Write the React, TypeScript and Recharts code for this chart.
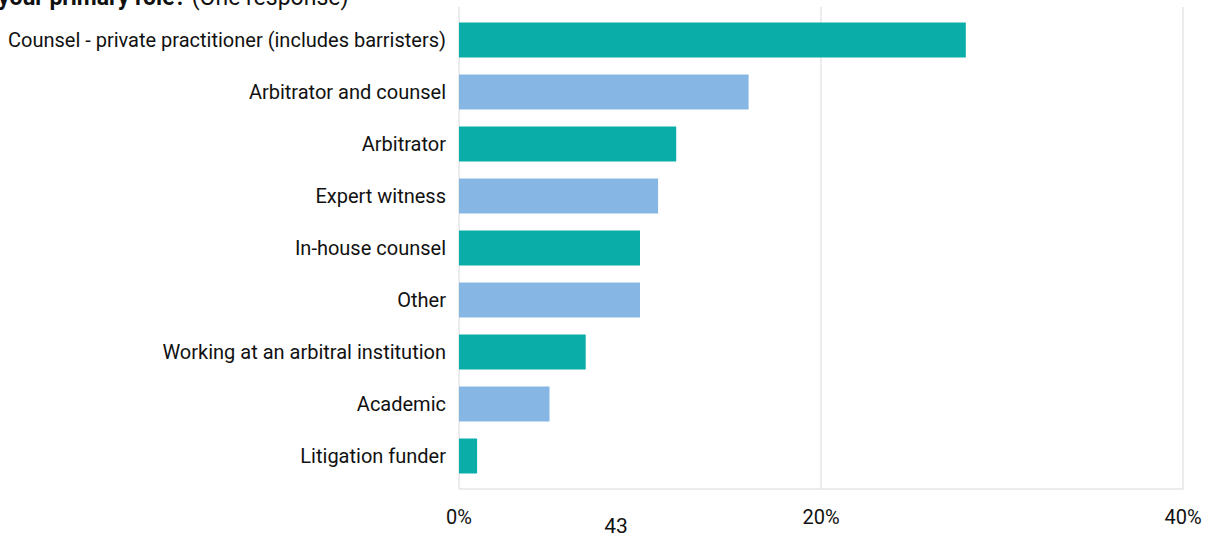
import { BarChart, Bar, XAxis, YAxis, CartesianGrid, Cell } from 'recharts';

const roles = [
  'Counsel - private practitioner (includes barristers)',
  'Arbitrator and counsel',
  'Arbitrator',
  'Expert witness',
  'In-house counsel',
  'Other',
  'Working at an arbitral institution',
  'Academic',
  'Litigation funder',
];
const shares = [28, 16, 12, 11, 10, 10, 7, 5, 1];
const xTicks = [0, 20, 40];

const TEAL = '#0aada8';
const BLUE = '#86b7e4';
const FONT = 'Roboto, "Noto Sans", sans-serif';

export default function App() {
  const data = roles.map((name, i) => ({ name, value: shares[i] }));

  return (
    <div style={{ position: 'absolute', left: 0, top: 0, width: 1211, height: 538, background: '#fff' }}>
      <svg width={1211} height={538} style={{ position: 'absolute', left: 0, top: 0, pointerEvents: 'none' }}>
        <text x={-2} y={5} fontFamily={FONT} fontSize={23} fill="#111">
          <tspan fontWeight="bold">your primary role?</tspan>
          <tspan> (One response)</tspan>
        </text>
        <text x={616} y={533} textAnchor="middle" fontFamily={FONT} fontSize={21} fill="#111">
          43
        </text>
      </svg>
      <BarChart
        width={1211}
        height={538}
        data={data}
        layout="vertical"
        margin={{ top: 7, right: 28, left: 0, bottom: 19 }}
      >
        <CartesianGrid horizontal={false} stroke="#d9d9d9" />
        <XAxis
          type="number"
          domain={[0, 40]}
          ticks={xTicks}
          tickFormatter={(v) => `${v}%`}
          axisLine={{ stroke: '#d9d9d9' }}
          tickLine={false}
          tickMargin={15}
          height={30}
          tick={{ fontFamily: FONT, fontSize: 20, fill: '#111' }}
        />
        <YAxis
          type="category"
          dataKey="name"
          width={459}
          axisLine={false}
          tickLine={false}
          tickMargin={7}
          padding={{ top: 6.5, bottom: 7.5 }}
          interval={0}
          tick={{ fontFamily: FONT, fontSize: 20, fill: '#111' }}
        />
        <Bar dataKey="value" barSize={35} isAnimationActive={false}>
          {data.map((d, i) => (
            <Cell key={d.name} fill={i % 2 === 0 ? TEAL : BLUE} />
          ))}
        </Bar>
      </BarChart>
    </div>
  );
}
